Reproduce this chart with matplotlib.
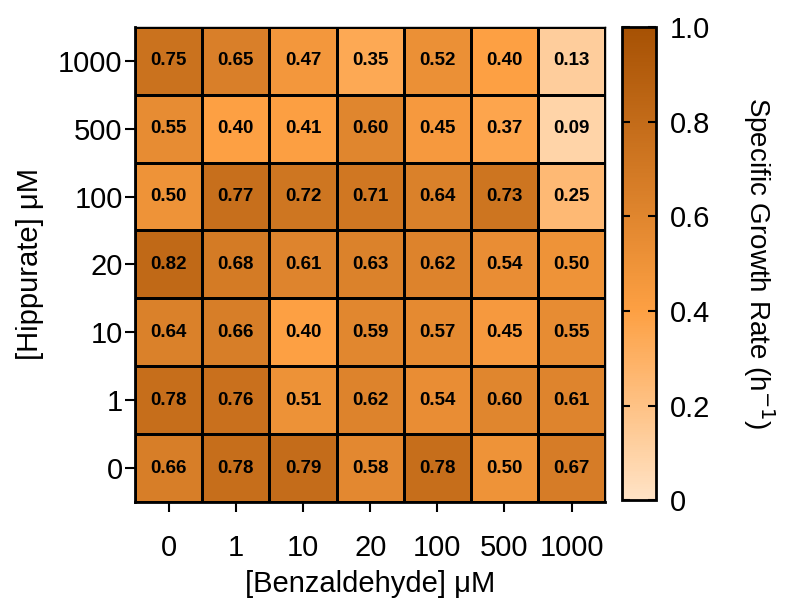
import numpy as np
import matplotlib
matplotlib.use("Agg")
import matplotlib.pyplot as plt
from matplotlib.colors import LinearSegmentedColormap

plt.rcParams['font.family'] = ['Liberation Sans', 'DejaVu Sans']

benzaldehyde = ["0", "1", "10", "20", "100", "500", "1000"]
hippurate = ["1000", "500", "100", "20", "10", "1", "0"]  # top to bottom
values = [
    [0.75, 0.65, 0.47, 0.35, 0.52, 0.40, 0.13],
    [0.55, 0.40, 0.41, 0.60, 0.45, 0.37, 0.09],
    [0.50, 0.77, 0.72, 0.71, 0.64, 0.73, 0.25],
    [0.82, 0.68, 0.61, 0.63, 0.62, 0.54, 0.50],
    [0.64, 0.66, 0.40, 0.59, 0.57, 0.45, 0.55],
    [0.78, 0.76, 0.51, 0.62, 0.54, 0.60, 0.61],
    [0.66, 0.78, 0.79, 0.58, 0.78, 0.50, 0.67],
]

data = np.array(values)
cmap = LinearSegmentedColormap.from_list(
    "orng", [(0.0, "#FFE3C6"), (0.4, "#FDA043"), (1.0, "#A65104")])

fig = plt.figure(figsize=(7.86, 6.10), dpi=100)
ax = fig.add_axes([0.172, 0.177, 0.598, 0.779])
cax = fig.add_axes([0.791, 0.180, 0.044, 0.776])

mesh = ax.pcolormesh(data, cmap=cmap, vmin=0, vmax=1, edgecolors='black', linewidth=1.0)
ax.set_xlim(0, data.shape[1])
ax.set_ylim(data.shape[0], 0)

for i in range(data.shape[0]):
    for j in range(data.shape[1]):
        ax.text(j + 0.5, i + 0.5, f"{data[i, j]:.2f}", ha='center', va='center',
                fontsize=13.5, fontweight='bold', color='black')

ax.set_xticks(np.arange(data.shape[1]) + 0.5)
ax.set_xticklabels(benzaldehyde)
ax.set_yticks(np.arange(data.shape[0]) + 0.5)
ax.set_yticklabels(hippurate)
ax.tick_params(axis='both', labelsize=21, length=7, width=1.5, direction='out', colors='black')
ax.tick_params(axis='x', pad=16)
ax.tick_params(axis='y', pad=2)
for s in ['left', 'bottom']:
    ax.spines[s].set_linewidth(2)
for s in ['top', 'right']:
    ax.spines[s].set_linewidth(1)

ax.set_xlabel("[Benzaldehyde] μM", fontsize=21, labelpad=6)
ax.set_ylabel("[Hippurate] μM", fontsize=21, labelpad=10)

cb = fig.colorbar(mesh, cax=cax)
cb.set_ticks([0, 0.2, 0.4, 0.6, 0.8, 1.0])
cb.set_ticklabels(["0", "0.2", "0.4", "0.6", "0.8", "1.0"])
cb.outline.set_linewidth(2)
cax.yaxis.set_ticks_position('both')
cax.tick_params(which='both', direction='in', left=True, right=True, labelleft=False,
                labelright=True, length=6, width=1.5, labelsize=21, pad=10)
cb.set_label("Specific Growth Rate (h$^{-1}$)", fontsize=20, rotation=270, labelpad=48)
cax.yaxis.set_label_position('right')

fig.savefig("out.png", dpi=100)
